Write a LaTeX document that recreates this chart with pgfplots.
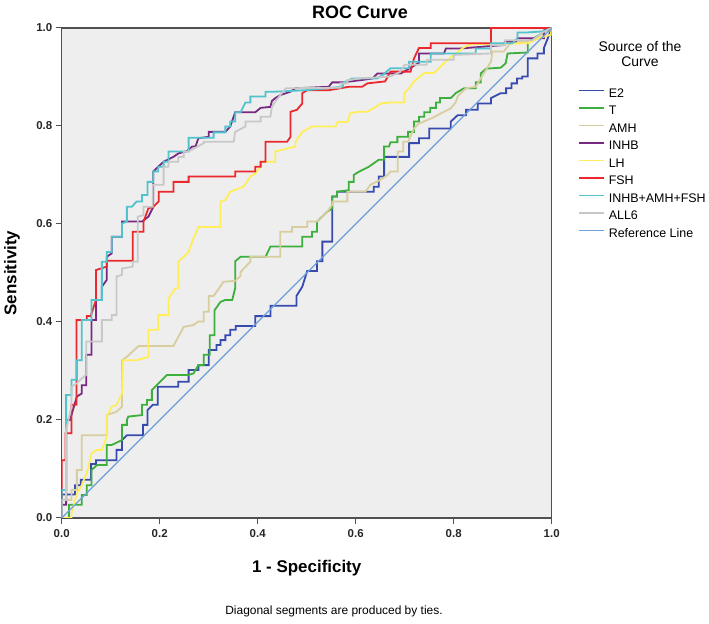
\documentclass[border=0pt]{standalone}
\usepackage{fontspec}
\setmainfont{Liberation Sans}
\usepackage{pgfplots}
\pgfplotsset{compat=1.18}
\definecolor{bgc}{RGB}{238,238,238}
\definecolor{framec}{RGB}{80,80,80}
\definecolor{cE}{RGB}{55,75,175}
\definecolor{cT}{RGB}{60,175,60}
\definecolor{cA}{RGB}{215,205,158}
\definecolor{cI}{RGB}{120,40,130}
\definecolor{cL}{RGB}{255,238,90}
\definecolor{cF}{RGB}{235,40,45}
\definecolor{cC}{RGB}{80,195,205}
\definecolor{cG}{RGB}{200,200,200}
\definecolor{cR}{RGB}{110,160,220}
\begin{document}
\begin{tikzpicture}[x=1bp,y=1bp]
\begin{axis}[
  at={(61.7bp,106bp)}, anchor=south west,
  width=490bp, height=490bp, scale only axis,
  xmin=0, xmax=1, ymin=0, ymax=1,
  axis background/.style={fill=bgc},
  axis line style={draw=framec, line width=1.1bp},
  xtick={0,0.2,0.4,0.6,0.8,1}, ytick={0,0.2,0.4,0.6,0.8,1},
  xticklabels={0.0,0.2,0.4,0.6,0.8,1.0},
  yticklabels={0.0,0.2,0.4,0.6,0.8,1.0},
  tick align=outside, tick pos=left,
  major tick length=6bp,
  tick style={draw=framec, line width=1bp},
  xticklabel style={yshift=-2bp},
  ticklabel style={font=\bfseries\fontsize{11.5}{13}\selectfont, text=black!85},
  every axis plot/.append style={line width=1.8bp, no markers, line join=miter},
  legend style={at={(rel axis cs:1.0476,0.8822)}, anchor=north west, draw=none, fill=none,
    font=\fontsize{12.5}{14}\selectfont, row sep=5.5bp, column sep=4bp,
    nodes={inner sep=0pt, text height=9.5bp, text depth=2.5bp}},
  legend cell align=left,
  legend image code/.code={\draw[#1, line width=1.6bp] (0bp,3.5bp) -- (25bp,3.5bp);},
]
\addplot[cE] coordinates {(0,0)(0,0.048)(0.027,0.048)(0.027,0.067)(0.039,0.067)(0.039,0.078)(0.060,0.078)(0.060,0.110)(0.070,0.110)(0.070,0.118)(0.112,0.118)(0.112,0.139)(0.123,0.139)(0.123,0.159)(0.133,0.169)(0.166,0.169)(0.166,0.190)(0.175,0.190)(0.175,0.220)(0.186,0.231)(0.196,0.231)(0.196,0.268)(0.238,0.268)(0.238,0.278)(0.259,0.278)(0.259,0.302)(0.279,0.302)(0.279,0.312)(0.300,0.312)(0.300,0.343)(0.316,0.343)(0.316,0.353)(0.324,0.353)(0.324,0.363)(0.334,0.363)(0.334,0.373)(0.344,0.373)(0.344,0.384)(0.355,0.384)(0.355,0.392)(0.395,0.392)(0.395,0.412)(0.426,0.412)(0.426,0.433)(0.479,0.433)(0.479,0.453)(0.491,0.472)(0.501,0.504)(0.521,0.504)(0.521,0.524)(0.532,0.524)(0.532,0.564)(0.552,0.564)(0.552,0.656)(0.562,0.656)(0.562,0.666)(0.637,0.666)(0.637,0.676)(0.647,0.676)(0.647,0.697)(0.658,0.697)(0.658,0.737)(0.709,0.737)(0.709,0.765)(0.729,0.765)(0.729,0.775)(0.750,0.775)(0.750,0.795)(0.794,0.795)(0.794,0.809)(0.808,0.822)(0.825,0.822)(0.825,0.833)(0.849,0.833)(0.849,0.846)(0.876,0.846)(0.876,0.857)(0.896,0.867)(0.907,0.867)(0.907,0.877)(0.918,0.877)(0.918,0.887)(0.929,0.887)(0.929,0.897)(0.940,0.897)(0.940,0.901)(0.951,0.901)(0.951,0.938)(0.971,0.938)(0.971,0.948)(0.984,0.948)(0.984,0.959)(0.992,0.979)(1,1)};
\addlegendentry{E2}
\addplot[cT] coordinates {(0,0)(0.015,0)(0.015,0.027)(0.041,0.027)(0.041,0.047)(0.051,0.047)(0.051,0.067)(0.061,0.067)(0.061,0.098)(0.072,0.108)(0.092,0.108)(0.092,0.149)(0.102,0.149)(0.123,0.159)(0.123,0.190)(0.133,0.190)(0.133,0.200)(0.136,0.207)(0.164,0.210)(0.164,0.231)(0.174,0.231)(0.174,0.241)(0.184,0.241)(0.184,0.261)(0.194,0.271)(0.215,0.292)(0.259,0.292)(0.269,0.295)(0.279,0.312)(0.290,0.312)(0.290,0.333)(0.302,0.333)(0.302,0.373)(0.312,0.373)(0.312,0.424)(0.324,0.441)(0.334,0.445)(0.348,0.445)(0.354,0.469)(0.354,0.524)(0.365,0.533)(0.416,0.533)(0.426,0.554)(0.491,0.554)(0.491,0.574)(0.511,0.574)(0.511,0.584)(0.521,0.584)(0.521,0.605)(0.542,0.625)(0.552,0.632)(0.552,0.656)(0.562,0.656)(0.562,0.666)(0.586,0.669)(0.586,0.686)(0.596,0.686)(0.596,0.700)(0.607,0.707)(0.627,0.717)(0.647,0.731)(0.658,0.731)(0.658,0.758)(0.668,0.758)(0.671,0.767)(0.685,0.767)(0.685,0.778)(0.707,0.778)(0.707,0.788)(0.719,0.788)(0.719,0.809)(0.729,0.809)(0.729,0.819)(0.740,0.819)(0.740,0.828)(0.752,0.828)(0.752,0.837)(0.764,0.837)(0.764,0.848)(0.772,0.848)(0.772,0.857)(0.794,0.857)(0.804,0.867)(0.821,0.877)(0.845,0.877)(0.845,0.889)(0.855,0.889)(0.855,0.907)(0.866,0.917)(0.896,0.919)(0.906,0.928)(0.910,0.948)(0.951,0.950)(0.951,0.972)(0.992,0.996)(1,1)};
\addlegendentry{T}
\addplot[cA] coordinates {(0,0)(0,0.037)(0.020,0.037)(0.020,0.057)(0.031,0.057)(0.031,0.098)(0.041,0.098)(0.041,0.169)(0.092,0.169)(0.092,0.210)(0.112,0.217)(0.123,0.227)(0.123,0.322)(0.133,0.329)(0.157,0.351)(0.228,0.351)(0.249,0.390)(0.269,0.394)(0.279,0.401)(0.290,0.401)(0.290,0.421)(0.300,0.421)(0.300,0.453)(0.310,0.453)(0.324,0.473)(0.330,0.482)(0.354,0.484)(0.365,0.494)(0.365,0.502)(0.385,0.523)(0.385,0.533)(0.446,0.533)(0.446,0.584)(0.470,0.584)(0.470,0.594)(0.501,0.594)(0.501,0.605)(0.521,0.605)(0.532,0.615)(0.542,0.625)(0.552,0.639)(0.552,0.646)(0.583,0.646)(0.583,0.666)(0.620,0.666)(0.630,0.680)(0.650,0.690)(0.665,0.700)(0.671,0.707)(0.686,0.707)(0.686,0.748)(0.697,0.748)(0.697,0.768)(0.707,0.768)(0.719,0.795)(0.729,0.805)(0.753,0.815)(0.794,0.836)(0.804,0.848)(0.808,0.860)(0.825,0.877)(0.845,0.880)(0.855,0.897)(0.876,0.931)(0.879,0.952)(0.902,0.952)(0.916,0.969)(0.964,0.975)(0.992,0.996)(1,1)};
\addlegendentry{AMH}
\addplot[cI] coordinates {(0,0)(0,0.027)(0.009,0.027)(0.009,0.200)(0.017,0.200)(0.031,0.248)(0.041,0.254)(0.041,0.271)(0.050,0.271)(0.050,0.333)(0.061,0.333)(0.061,0.404)(0.070,0.404)(0.070,0.445)(0.082,0.445)(0.082,0.472)(0.092,0.486)(0.092,0.533)(0.102,0.540)(0.102,0.574)(0.123,0.574)(0.123,0.605)(0.164,0.605)(0.177,0.615)(0.187,0.635)(0.187,0.707)(0.197,0.717)(0.208,0.727)(0.228,0.737)(0.238,0.744)(0.256,0.749)(0.266,0.758)(0.273,0.758)(0.279,0.775)(0.300,0.778)(0.300,0.788)(0.334,0.788)(0.344,0.799)(0.354,0.828)(0.395,0.828)(0.406,0.837)(0.426,0.839)(0.429,0.851)(0.436,0.857)(0.446,0.863)(0.467,0.870)(0.477,0.877)(0.545,0.880)(0.552,0.889)(0.573,0.889)(0.614,0.894)(0.634,0.897)(0.644,0.907)(0.692,0.907)(0.729,0.929)(0.729,0.948)(0.780,0.948)(0.784,0.958)(0.811,0.958)(0.900,0.965)(0.905,0.972)(0.927,0.972)(0.930,0.979)(0.984,0.979)(0.984,0.995)(1,1)};
\addlegendentry{INHB}
\addplot[cL] coordinates {(0,0)(0.020,0)(0.020,0.010)(0.031,0.050)(0.041,0.067)(0.051,0.091)(0.061,0.132)(0.072,0.139)(0.082,0.139)(0.092,0.166)(0.092,0.207)(0.102,0.227)(0.112,0.231)(0.123,0.254)(0.125,0.322)(0.153,0.322)(0.177,0.329)(0.177,0.384)(0.197,0.384)(0.197,0.414)(0.218,0.414)(0.218,0.448)(0.232,0.469)(0.238,0.469)(0.238,0.523)(0.259,0.543)(0.269,0.571)(0.279,0.594)(0.324,0.594)(0.324,0.646)(0.334,0.649)(0.344,0.666)(0.371,0.676)(0.378,0.686)(0.385,0.697)(0.395,0.703)(0.406,0.717)(0.406,0.727)(0.436,0.727)(0.436,0.748)(0.460,0.754)(0.477,0.758)(0.477,0.768)(0.491,0.788)(0.511,0.799)(0.559,0.799)(0.563,0.808)(0.583,0.808)(0.589,0.826)(0.603,0.829)(0.624,0.829)(0.641,0.839)(0.651,0.846)(0.671,0.848)(0.699,0.848)(0.699,0.867)(0.709,0.877)(0.719,0.891)(0.740,0.908)(0.760,0.908)(0.780,0.928)(0.800,0.945)(0.820,0.960)(0.835,0.967)(0.951,0.969)(0.971,0.979)(0.998,0.986)(1,1)};
\addlegendentry{LH}
\addplot[cF] coordinates {(0,0)(0,0.118)(0.008,0.118)(0.008,0.173)(0.020,0.173)(0.020,0.231)(0.030,0.231)(0.030,0.404)(0.051,0.404)(0.051,0.412)(0.059,0.412)(0.070,0.445)(0.070,0.506)(0.092,0.513)(0.092,0.525)(0.145,0.525)(0.145,0.584)(0.167,0.584)(0.167,0.605)(0.177,0.632)(0.187,0.635)(0.198,0.646)(0.198,0.666)(0.228,0.666)(0.228,0.686)(0.259,0.686)(0.259,0.697)(0.354,0.697)(0.354,0.707)(0.395,0.707)(0.395,0.717)(0.406,0.717)(0.406,0.727)(0.416,0.727)(0.416,0.768)(0.460,0.768)(0.467,0.778)(0.467,0.829)(0.480,0.833)(0.491,0.846)(0.491,0.867)(0.501,0.873)(0.545,0.873)(0.586,0.880)(0.613,0.880)(0.624,0.887)(0.660,0.891)(0.671,0.911)(0.712,0.911)(0.719,0.938)(0.729,0.959)(0.753,0.959)(0.753,0.969)(0.876,0.969)(0.876,1)(1,1)};
\addlegendentry{FSH}
\addplot[cC] coordinates {(0,0)(0,0.057)(0.009,0.057)(0.009,0.251)(0.020,0.251)(0.020,0.282)(0.031,0.282)(0.031,0.322)(0.041,0.322)(0.041,0.404)(0.061,0.404)(0.061,0.445)(0.082,0.445)(0.082,0.523)(0.092,0.523)(0.092,0.543)(0.102,0.543)(0.102,0.574)(0.123,0.574)(0.123,0.601)(0.133,0.605)(0.133,0.635)(0.143,0.635)(0.153,0.646)(0.164,0.646)(0.164,0.659)(0.175,0.659)(0.175,0.686)(0.187,0.686)(0.187,0.707)(0.197,0.707)(0.197,0.717)(0.208,0.717)(0.208,0.727)(0.218,0.727)(0.218,0.748)(0.259,0.748)(0.259,0.776)(0.310,0.776)(0.310,0.787)(0.334,0.787)(0.334,0.799)(0.344,0.799)(0.344,0.809)(0.354,0.809)(0.354,0.828)(0.365,0.828)(0.375,0.848)(0.385,0.848)(0.385,0.860)(0.416,0.860)(0.416,0.870)(0.436,0.870)(0.497,0.873)(0.573,0.880)(0.576,0.889)(0.593,0.897)(0.644,0.897)(0.655,0.904)(0.671,0.918)(0.709,0.918)(0.709,0.931)(0.753,0.931)(0.753,0.948)(0.845,0.948)(0.845,0.958)(0.876,0.958)(0.876,0.969)(0.920,0.969)(0.930,0.979)(0.930,0.991)(0.951,0.991)(0.982,0.993)(1,1)};
\addlegendentry{INHB+AMH+FSH}
\addplot[cG] coordinates {(0,0)(0,0.037)(0.009,0.037)(0.009,0.180)(0.020,0.227)(0.020,0.268)(0.031,0.275)(0.041,0.285)(0.050,0.292)(0.050,0.360)(0.082,0.360)(0.082,0.404)(0.102,0.404)(0.102,0.414)(0.112,0.414)(0.112,0.493)(0.123,0.496)(0.123,0.509)(0.145,0.513)(0.145,0.523)(0.155,0.523)(0.155,0.615)(0.167,0.618)(0.167,0.635)(0.186,0.635)(0.186,0.680)(0.208,0.680)(0.208,0.717)(0.218,0.717)(0.218,0.727)(0.238,0.727)(0.238,0.737)(0.249,0.737)(0.249,0.748)(0.259,0.748)(0.290,0.765)(0.290,0.768)(0.351,0.768)(0.354,0.788)(0.375,0.799)(0.375,0.809)(0.406,0.809)(0.406,0.819)(0.426,0.819)(0.429,0.839)(0.436,0.850)(0.457,0.877)(0.569,0.878)(0.569,0.887)(0.583,0.887)(0.583,0.893)(0.607,0.897)(0.671,0.901)(0.690,0.910)(0.700,0.925)(0.745,0.925)(0.745,0.935)(0.800,0.935)(0.800,0.945)(0.876,0.948)(0.876,0.965)(0.905,0.965)(0.905,0.975)(0.960,0.975)(0.980,0.990)(1,1)};
\addlegendentry{ALL6}
\addplot[cR, line width=1.3bp] coordinates {(0,0)(1,1)};
\addlegendentry{Reference Line}
\end{axis}
\node[font=\bfseries\fontsize{18}{20}\selectfont] at (360bp,612bp) {ROC Curve};
\node[font=\fontsize{14}{16}\selectfont, align=center] at (640bp,570bp) {Source of the\\[-1pt]Curve};
\node[font=\bfseries\fontsize{17}{19}\selectfont, rotate=90] at (12bp,351bp) {Sensitivity};
\node[font=\bfseries\fontsize{17}{19}\selectfont] at (306.7bp,56bp) {1 - Specificity};
\node[font=\fontsize{12}{14}\selectfont] at (334bp,13bp) {Diagonal segments are produced by ties.};
\pgfresetboundingbox
\path[use as bounding box] (0,0) rectangle (709bp,624bp);
\end{tikzpicture}
\end{document}
